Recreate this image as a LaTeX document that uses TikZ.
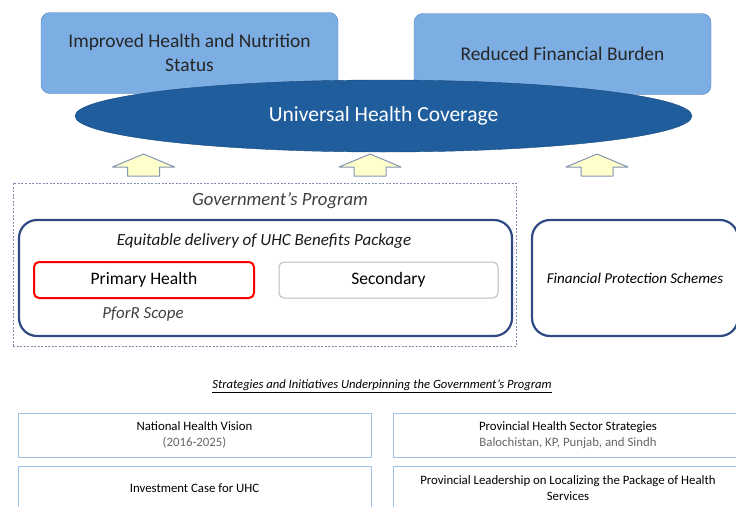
\documentclass[tikz,border=0pt]{standalone}
\usepackage{fontspec}
\setmainfont{Carlito}
\usetikzlibrary{shapes.geometric}

\definecolor{goalblue}{RGB}{125,174,227}
\definecolor{goaledge}{RGB}{79,127,190}
\definecolor{uhcblue}{RGB}{31,93,156}
\definecolor{navy}{RGB}{47,74,130}
\definecolor{dashgray}{RGB}{128,140,172}
\definecolor{arrowfill}{RGB}{255,255,204}
\definecolor{arrowedge}{RGB}{132,150,178}
\definecolor{paleblue}{RGB}{157,195,230}
\definecolor{boxgray}{RGB}{178,188,194}

\begin{document}
\begin{tikzpicture}[x=1pt, y=-1pt,
    goal/.style={draw=goaledge, fill=goalblue, rounded corners=9pt,
      minimum width=297pt, minimum height=81pt, align=center,
      font=\fontsize{19.4}{24}\selectfont, text=black!85},
    uhc/.style={ellipse, draw=uhcblue!80!black, fill=uhcblue,
      minimum width=617pt, minimum height=72pt, inner sep=0pt,
      text=white, font=\fontsize{21.5}{24}\selectfont},
    uparrow/.style={draw=arrowedge, fill=arrowfill, line width=1pt,
      line join=round},
    program/.style={draw=dashgray, dashed, line width=0.8pt,
      dash pattern=on 2pt off 1.5pt, minimum width=503pt, minimum height=163pt},
    tier/.style={draw=navy, line width=2.2pt, rounded corners=18pt,
      minimum height=116pt},
    level/.style={rounded corners=5pt, minimum width=219pt,
      minimum height=36pt, font=\fontsize{17.5}{20}\selectfont},
    caption/.style={font=\fontsize{18.7}{20}\selectfont\itshape, text=black!75},
    strategy/.style={draw=paleblue, line width=1pt, minimum width=353pt,
      minimum height=44pt, align=center, font=\fontsize{12.8}{15.5}\selectfont}]
  \useasboundingbox (0,0) rectangle (736,506);
  \clip (0,0) rectangle (736,506);

  % outcomes and the coverage goal
  \node (health) at (189.5,53) [goal] {Improved Health and Nutrition\\Status};
  \node (burden) at (562.5,54) [goal] {Reduced Financial Burden};
  \node (cover) at (383.5,116) [uhc] {Universal Health Coverage};

  % arrows up into the goal
  \foreach \ax in {143.5,370,597}
    \draw[uparrow] (\ax,154) -- ++(31,13) -- ++(-15,0) -- ++(0,9)
      -- ++(-32,0) -- ++(0,-9) -- ++(-15,0) -- cycle;

  % government's program
  \node (prog) at (264.5,264.5) [program] {};
  \node (progtitle) at (280,201) [caption] {Government's Program};
  \node (delivery) at (265.5,278) [tier, minimum width=493pt] {};
  \node (deltitle) at (264,241) [caption, text=black!90,
    font=\fontsize{17}{20}\selectfont\itshape]
    {Equitable delivery of UHC Benefits Package};
  \node (primary) at (144,280) [level, draw=red, line width=2pt,
    minimum width=220pt] {Primary Health};
  \node (secondary) at (388.5,280) [level, draw=boxgray, line width=1pt] {Secondary};
  \node (scope) at (143,314) [caption, font=\fontsize{16.9}{20}\selectfont\itshape]
    {PforR Scope};
  \node (finance) at (635,278) [tier, minimum width=206pt,
    font=\fontsize{15}{18}\selectfont\itshape] {Financial Protection Schemes};

  % underpinning strategies
  \node (under) at (382,386) [font=\fontsize{12.6}{14}\selectfont\itshape]
    {\underline{Strategies and Initiatives Underpinning the Government's Program}};
  \node (vision) at (194.5,435) [strategy]
    {National Health Vision\\{\color{black!60}(2016-2025)}};
  \node (sector) at (568,435) [strategy, minimum width=350pt]
    {Provincial Health Sector Strategies\\{\color{black!60}Balochistan, KP, Punjab, and Sindh}};
  \node (invest) at (194.5,488) [strategy] {Investment Case for UHC};
  \node (local) at (568,488) [strategy, minimum width=350pt]
    {Provincial Leadership on Localizing the Package of Health\\Services};
\end{tikzpicture}
\end{document}
